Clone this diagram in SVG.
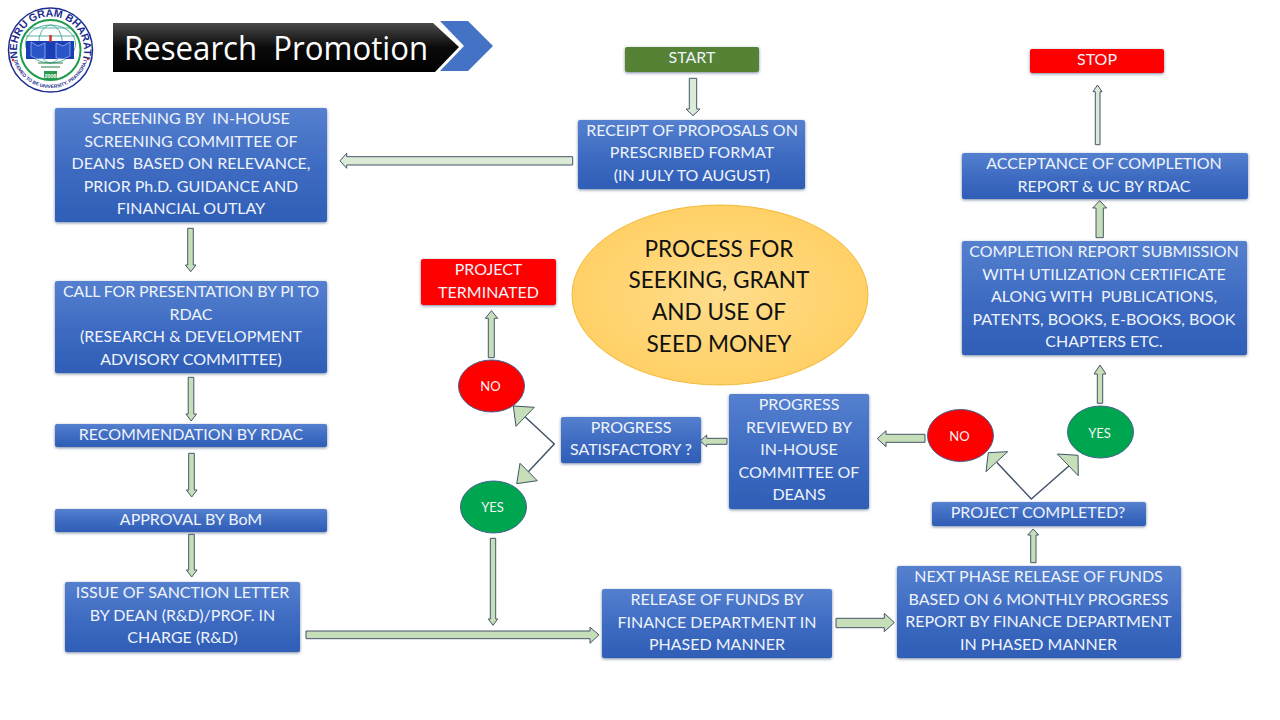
<svg xmlns="http://www.w3.org/2000/svg" width="1280" height="720" viewBox="0 0 1280 720">
<defs>
<linearGradient id="blue" x1="0" y1="0" x2="0" y2="1"><stop offset="0" stop-color="#5580cf"/><stop offset="0.5" stop-color="#3f6cc2"/><stop offset="1" stop-color="#2f5eb6"/></linearGradient>
<linearGradient id="band" x1="0" y1="0" x2="0" y2="1"><stop offset="0" stop-color="#4a4a4a"/><stop offset="0.5" stop-color="#0a0a0a"/><stop offset="1" stop-color="#000"/></linearGradient>
<radialGradient id="sun" cx="0.5" cy="0.5" r="0.55"><stop offset="0" stop-color="#ffdd8c"/><stop offset="1" stop-color="#ffcf62"/></radialGradient>
<filter id="sh" x="-10%" y="-25%" width="120%" height="150%"><feGaussianBlur in="SourceAlpha" stdDeviation="1.6" result="b"/><feOffset in="b" dy="0.8" result="o"/><feFlood flood-color="#1f3864" flood-opacity="0.6"/><feComposite in2="o" operator="in"/><feMerge><feMergeNode/><feMergeNode in="SourceGraphic"/></feMerge></filter>
<path id="ringTop" d="M50.500 83.500A33.500 33.500 0 1 1 50.500 16.500A33.500 33.500 0 1 1 50.500 83.500"/>
<path id="ringBot" d="M12.500 50A38 38 0 0 0 88.500 50"/>
<clipPath id="globe"><circle cx="50.500" cy="50" r="29"/></clipPath>
<style>
text{font-family:"Lato","Carlito","Liberation Sans",sans-serif}
.box{fill:url(#blue);filter:url(#sh)}
.flat{filter:url(#sh)}
.t{fill:#eef3fb;font-size:16px;text-anchor:middle;transform:translateY(0.3px)}
.c{font-size:13px;text-anchor:middle;fill:#f4f4f4}
.oval{stroke:#44618f;stroke-width:1}
.arr{fill:#c6dfb8;stroke:#44546a;stroke-width:1}
.pale{fill:#dcebd8}
.ln{fill:none;stroke:#44546a;stroke-width:1.500}
.g{fill:none;stroke:#2e9f8a;stroke-width:0.800}
</style>
</defs>
<rect width="1280" height="720" fill="#fff"/>

<g id="logo">
<circle cx="50.500" cy="50" r="42" fill="#fff" stroke="#1c2d8f" stroke-width="1.500"/>
<circle cx="50.500" cy="50" r="30" fill="#fff" stroke="#1e9b4a" stroke-width="2"/>
<g clip-path="url(#globe)">
<ellipse class="g" cx="50.500" cy="44" rx="25" ry="19"/><ellipse class="g" cx="50.500" cy="44" rx="12" ry="19"/>
<path class="g" d="M26 36H75M30 28H71"/>
</g>
<rect x="26" y="41" width="48" height="18" fill="#1a3fb5"/>
<path d="M31 42l7 4l7-3v15l-7 1l-7-3zM56 43l7 3l7-4v14l-7 3l-7-1z" fill="#2a55c8" stroke="#e4ecff" stroke-width="0.500"/>
<path d="M50.500 35v7" stroke="#d8312a" stroke-width="2.500"/>
<path d="M38 63H63M41 67H60" stroke="#2f7a45" stroke-width="1.200"/>
<rect x="44" y="71" width="13" height="8" fill="#2a9a4a"/>
<text x="50.500" y="77.500" font-size="5.500" font-weight="700" fill="#fff" text-anchor="middle" style="font-family:'Liberation Sans',sans-serif">2008</text>
<text font-size="10.500" font-weight="700" fill="#1c2d8f" style="font-family:'Liberation Sans',sans-serif"><textPath href="#ringTop" startOffset="50%" text-anchor="middle">NEHRU GRAM BHARATI</textPath></text>
<text font-size="4.800" font-weight="700" fill="#1c2d8f" style="font-family:'Liberation Sans',sans-serif"><textPath href="#ringBot" startOffset="50%" text-anchor="middle">DEEMED TO BE UNIVERSITY, PRAYAGRAJ</textPath></text>
<circle cx="13" cy="60" r="1.200" fill="#d8312a"/><circle cx="88" cy="59" r="1.200" fill="#d8312a"/>
</g>

<g id="title">
<path d="M113 23H433L459 47L435 72H113Z" fill="url(#band)"/>
<path d="M440 21H468L493 46L468 71H440L464 46Z" fill="#4472c4"/>
<text x="124" y="59.500" font-size="33" fill="#fff" xml:space="preserve" textLength="304" lengthAdjust="spacingAndGlyphs" style="font-family:'Open Sans','Liberation Sans',sans-serif">Research  Promotion</text>
</g>

<g id="connectors">
<path class="arr pale" d="M689.300 78.300h7.400V109H700l-7 6.700L686 109h3.300z"/>
<path class="arr pale" d="M572.700 156.700V165H346.700v3.300L340 160.800l6.700-7.500v3.400z"/>
<path class="arr" d="M187.700 228.300h5.600V265H196l-5.300 6.700l-5.300-6.700h2.300z"/>
<path class="arr" d="M188.200 377.300h5.600V414h2.700l-5.300 7l-5.300-7h2.300z"/>
<path class="arr" d="M188.700 453.300h5.600V490h2.700l-5.300 7l-5.300-7h2.300z"/>
<path class="arr" d="M188.700 534.300h5.600V570h2.700l-5.300 7l-5.300-7h2.300z"/>
<path class="arr" d="M306 631H590v-3.700l9 7.500l-9 8.500v-4.600H306z"/>
<path class="arr" d="M490.300 538.300h5.400V619h2l-4.700 6.300l-4.700-6.300h2z"/>
<path class="arr" d="M836 618.300h48.300v-5l10 9.200l-10 9.200v-4H836z"/>
<path class="arr" d="M1030.700 562.700V535h-3l5.500-6l5.500 6h-2.700v27.700z"/>
<path class="arr" d="M488.300 357.700V318.300h-3l6.200-7.600l6.200 7.600h-3.400v39.400z"/>
<path class="arr" d="M925 434.300v8H886v4.400l-8.700-8l8.700-8v3.600z"/>
<path class="arr" d="M727 438.300v6H706.700v2.400L700 441l6.700-6v3.300z"/>
<path class="arr" d="M1097.300 403.300V374h-3.300l6-9l6 9h-3.300v29.300z"/>
<path class="arr" d="M1096 237.700V208h-3.300l7-7.300l7 7.300h-3.400v29.700z"/>
<path class="arr pale" d="M1095.300 144.700V91.700H1093l4.500-6.700l4.500 6.700h-2v53z"/>
<path class="ln" d="M525 416.700L554.300 444L528.300 471.700"/>
<path class="arr" d="M513.300 406L534.300 407.300L516 426.300Z"/>
<path class="arr" d="M520 463.300L537.300 480.700L516.700 483.700Z"/>
<path class="ln" d="M996.700 462.300L1031.300 499L1070 465"/>
<path class="arr" d="M1007.700 451.700L986 471.700L988.300 452.700Z"/>
<path class="arr" d="M1057.300 454L1078 455.300L1078.300 475.700Z"/>
</g>

<g id="start"><rect class="flat" x="625" y="47" width="134" height="25" rx="2" fill="#548235"/><text class="t" x="692" y="63">START</text></g>
<g id="stop"><rect class="flat" x="1030" y="49" width="134" height="24" rx="2" fill="#fe0000"/><text class="t" x="1097" y="65">STOP</text></g>
<g id="terminated"><rect class="flat" x="421" y="259" width="135" height="46" rx="2" fill="#fe0000"/><text class="t" x="488.500" y="275">PROJECT</text><text class="t" x="488.500" y="298">TERMINATED</text></g>

<g id="screening"><rect class="box" x="55" y="108" width="272" height="114" rx="2"/>
<text class="t" x="191" y="124" xml:space="preserve">SCREENING BY  IN-HOUSE</text><text class="t" x="191" y="147">SCREENING COMMITTEE OF</text><text class="t" x="191" y="169" xml:space="preserve">DEANS  BASED ON RELEVANCE,</text><text class="t" x="191" y="192">PRIOR Ph.D. GUIDANCE AND</text><text class="t" x="191" y="214">FINANCIAL OUTLAY</text></g>
<g id="call"><rect class="box" x="55" y="281" width="272" height="92" rx="2"/>
<text class="t" x="191" y="297" textLength="256">CALL FOR PRESENTATION BY PI TO</text><text class="t" x="191" y="320">RDAC</text><text class="t" x="191" y="342">(RESEARCH &amp; DEVELOPMENT</text><text class="t" x="191" y="365">ADVISORY COMMITTEE)</text></g>
<g id="recommendation"><rect class="box" x="55" y="424" width="272" height="23" rx="2"/><text class="t" x="191" y="440">RECOMMENDATION BY RDAC</text></g>
<g id="approval"><rect class="box" x="55" y="509" width="272" height="23" rx="2"/><text class="t" x="191" y="525">APPROVAL BY BoM</text></g>
<g id="sanction"><rect class="box" x="65" y="582" width="235" height="70" rx="2"/>
<text class="t" x="182.500" y="598">ISSUE OF SANCTION LETTER</text><text class="t" x="182.500" y="621">BY DEAN (R&amp;D)/PROF. IN</text><text class="t" x="182.500" y="643">CHARGE (R&amp;D)</text></g>
<g id="receipt"><rect class="box" x="578" y="120" width="227" height="69" rx="2"/>
<text class="t" x="692" y="136">RECEIPT OF PROPOSALS ON</text><text class="t" x="692" y="158">PRESCRIBED FORMAT</text><text class="t" x="692" y="181">(IN JULY TO AUGUST)</text></g>
<g id="release"><rect class="box" x="602" y="589" width="230" height="69" rx="2"/>
<text class="t" x="717" y="605">RELEASE OF FUNDS BY</text><text class="t" x="717" y="628">FINANCE DEPARTMENT IN</text><text class="t" x="717" y="650">PHASED MANNER</text></g>
<g id="nextphase"><rect class="box" x="897" y="566" width="284" height="92" rx="2"/>
<text class="t" x="1038.500" y="582">NEXT PHASE RELEASE OF FUNDS</text><text class="t" x="1038.500" y="605">BASED ON 6 MONTHLY PROGRESS</text><text class="t" x="1038.500" y="627">REPORT BY FINANCE DEPARTMENT</text><text class="t" x="1038.500" y="650">IN PHASED MANNER</text></g>
<g id="reviewed"><rect class="box" x="729" y="394" width="140" height="115" rx="2"/>
<text class="t" x="799" y="410">PROGRESS</text><text class="t" x="799" y="433">REVIEWED BY</text><text class="t" x="799" y="455">IN-HOUSE</text><text class="t" x="799" y="478">COMMITTEE OF</text><text class="t" x="799" y="500">DEANS</text></g>
<g id="satisfactory"><rect class="box" x="561" y="417" width="140" height="46" rx="2"/>
<text class="t" x="631" y="433">PROGRESS</text><text class="t" x="631" y="455">SATISFACTORY ?</text></g>
<g id="completed"><rect class="box" x="932" y="502" width="214" height="24" rx="2"/><text class="t" x="1038" y="518">PROJECT COMPLETED?</text></g>
<g id="completion"><rect class="box" x="962" y="241" width="285" height="114" rx="2"/>
<text class="t" x="1104" y="257">COMPLETION REPORT SUBMISSION</text><text class="t" x="1104" y="280">WITH UTILIZATION CERTIFICATE</text><text class="t" x="1104" y="302" xml:space="preserve">ALONG WITH  PUBLICATIONS,</text><text class="t" x="1104" y="325">PATENTS, BOOKS, E-BOOKS, BOOK</text><text class="t" x="1104" y="347">CHAPTERS ETC.</text></g>
<g id="acceptance"><rect class="box" x="962" y="153" width="286" height="46" rx="2"/>
<text class="t" x="1104" y="169">ACCEPTANCE OF COMPLETION</text><text class="t" x="1104" y="192">REPORT &amp; UC BY RDAC</text></g>

<g id="process"><ellipse cx="720" cy="295" rx="148" ry="90" fill="url(#sun)" stroke="#f5b83d" stroke-width="1"/>
<g font-size="22.600" text-anchor="middle" fill="#111"><text x="719" y="257">PROCESS FOR</text><text x="719" y="288">SEEKING, GRANT</text><text x="719" y="320">AND USE OF</text><text x="719" y="352">SEED MONEY</text></g></g>

<g id="no1"><ellipse class="oval" cx="491.500" cy="386" rx="33" ry="26" fill="#fe0000"/><text class="c" x="490.500" y="391">NO</text></g>
<g id="yes1"><ellipse class="oval" cx="493.500" cy="507" rx="33" ry="26" fill="#00a64f"/><text class="c" x="492.500" y="512">YES</text></g>
<g id="no2"><ellipse class="oval" cx="960.500" cy="435.500" rx="33" ry="26" fill="#fe0000"/><text class="c" x="959.500" y="441">NO</text></g>
<g id="yes2"><ellipse class="oval" cx="1100.500" cy="432" rx="33" ry="26" fill="#00a64f"/><text class="c" x="1099.500" y="438">YES</text></g>
</svg>
